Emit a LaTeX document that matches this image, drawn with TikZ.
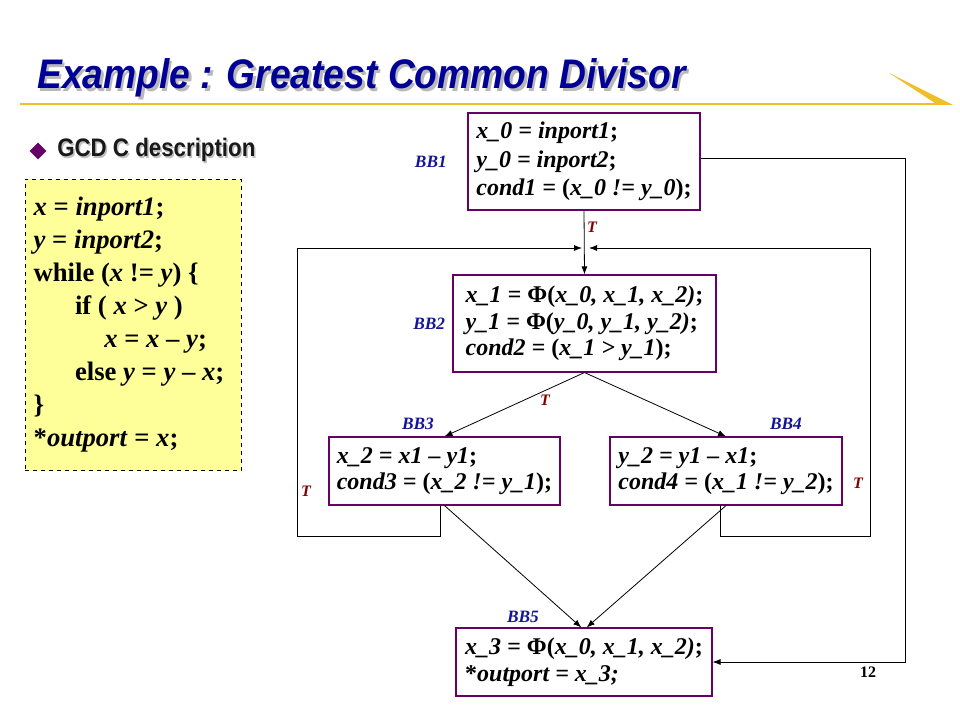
\documentclass[tikz,border=0pt]{standalone}
\usepackage{fontspec}
\usepackage{graphicx}
\setmainfont{Liberation Serif}
\setsansfont{Liberation Sans}
\usetikzlibrary{positioning,arrows.meta,shapes.geometric}
\definecolor{titleblue}{RGB}{0,0,153}
\definecolor{labelblue}{RGB}{20,20,150}
\definecolor{tred}{RGB}{128,0,0}
\definecolor{boxpurple}{RGB}{102,0,102}
\definecolor{codeyellow}{RGB}{255,255,153}
\definecolor{gold}{RGB}{240,190,40}

\begin{document}
\begin{tikzpicture}[x=0.75pt,y=-0.75pt,bb/.style={draw=boxpurple, line width=0.8pt, fill=white, align=left, inner sep=0pt, font=\fontsize{18}{20}\selectfont\bfseries},lbl/.style={text=labelblue, font=\fontsize{13}{15}\selectfont\bfseries\itshape},tlab/.style={text=tred, font=\fontsize{12}{14}\selectfont\bfseries\itshape},arr/.style={-{Latex[length=6pt,width=4.5pt]}, line width=0.6pt},srcbox/.style={draw, dashed, fill=codeyellow, align=flush left, inner xsep=6.5pt, inner ysep=0pt, text width=149pt, font=\fontsize{20}{24.75}\selectfont\bfseries}]
\useasboundingbox (0,0) rectangle (960,720);
\draw[gold, line width=2.2pt] (20,104) -- (945,104);
\fill[gold] (889,73) -- (953,105) -- (938,105) -- cycle;
\node[anchor=base west, text=gray!55, inner sep=0pt, font=\fontsize{31}{33}\selectfont\sffamily\bfseries\itshape] at (39.5,91.5) {\scalebox{0.9}[1]{Example : Greatest Common Divisor}};
\node[anchor=base west, text=titleblue, inner sep=0pt, font=\fontsize{31}{33}\selectfont\sffamily\bfseries\itshape] (title) at (37,89) {\scalebox{0.9}[1]{Example : Greatest Common Divisor}};
\node[fill=boxpurple, diamond, shape aspect=1, inner sep=3.2pt] (dot) at (38,151) {};
\node[anchor=base west, text=gray!50, inner sep=0pt, font=\fontsize{19}{21}\selectfont\sffamily\bfseries] at (58.5,158.5) {\scalebox{0.88}[1]{GCD C description}};
\node[anchor=base west, text=black!90, inner sep=0pt, font=\fontsize{19}{21}\selectfont\sffamily\bfseries] (sub) at (57,157) {\scalebox{0.88}[1]{GCD C description}};
\node[srcbox, minimum width=162pt, minimum height=218.25pt] (src) at (133,325) {\textit{x} = \textit{inport1};\\\textit{y} = \textit{inport2};\\while (\textit{x} != \textit{y}) \{\\\hspace*{31pt}if ( \textit{x} > \textit{y} )\\\hspace*{53pt}\textit{x} = \textit{x} -- \textit{y};\\\hspace*{31pt}else \textit{y} = \textit{y} -- \textit{x};\\\}\\{}*\textit{outport} = \textit{x};};
\node[bb, minimum width=174pt, minimum height=72.75pt, font=\fontsize{18}{21.5}\selectfont\bfseries] (bb1) at (584,161.5) {\textit{x\_0 = inport1};\\\textit{y\_0 = inport2};\\\textit{cond1 = }(\textit{x\_0 != y\_0});};
\node[bb, minimum width=197.25pt, minimum height=72.75pt] (bb2) at (584.5,323.5) {\textit{x\_1 = }Φ(\textit{x\_0, x\_1, x\_2)};\\\textit{y\_1 = }Φ(\textit{y\_0, y\_1, y\_2)};\\\textit{cond2 = }(\textit{x\_1 > y\_1});};
\node[bb, minimum width=173.25pt, minimum height=51pt] (bb3) at (444.5,471) {\textit{x\_2 = x1 -- y1};\\\textit{cond3 = }(\textit{x\_2 != y\_1});};
\node[bb, minimum width=174pt, minimum height=51pt] (bb4) at (726,471) {\textit{y\_2 = y1 -- x1};\\\textit{cond4 = }(\textit{x\_1 != y\_2});};
\node[bb, minimum width=192pt, minimum height=51pt] (bb5) at (584,662) {\textit{x\_3 = }Φ(\textit{x\_0, x\_1, x\_2)};\\{}*\textit{outport = x\_3;}};
\node[lbl, left=12pt of bb1] (l1) {BB1};
\node[lbl, left=2pt of bb2] (l2) {BB2};
\node[lbl] (l3) at (418,424) {BB3};
\node[lbl] (l4) at (786,424) {BB4};
\node[lbl] (l5) at (523,617) {BB5};
\node[tlab] (t1) at (592,227) {T};
\node[tlab] (t2) at (545,400) {T};
\node[tlab] (t3) at (306,491) {T};
\node[tlab] (t4) at (858,483) {T};
\node[font=\fontsize{12}{14}\selectfont\bfseries] (page) at (868,672) {12};
\coordinate (jl) at (582,248);
\coordinate (jr) at (589,248);
\draw[arr] (bb1.south) -- (bb2.north);
\draw[arr] (bb2.south) -- (bb3.north);
\draw[arr] (bb2.south) -- (bb4.north);
\draw[arr] (bb3.south) -- ([xshift=-2pt]bb5.north);
\draw[arr] (bb4.south) -- ([xshift=2pt]bb5.north);
\draw[arr] ([xshift=-3pt]bb3.south) -- ++(0,31) -| (297,248) -- (jl);
\draw[arr] ([xshift=-4pt]bb4.south) -- ++(0,31) -| (870,248) -- (jr);
\draw[arr] ([yshift=2.5pt]bb1.east) -| (905,662) -- (bb5.east);
\end{tikzpicture}
\end{document}
